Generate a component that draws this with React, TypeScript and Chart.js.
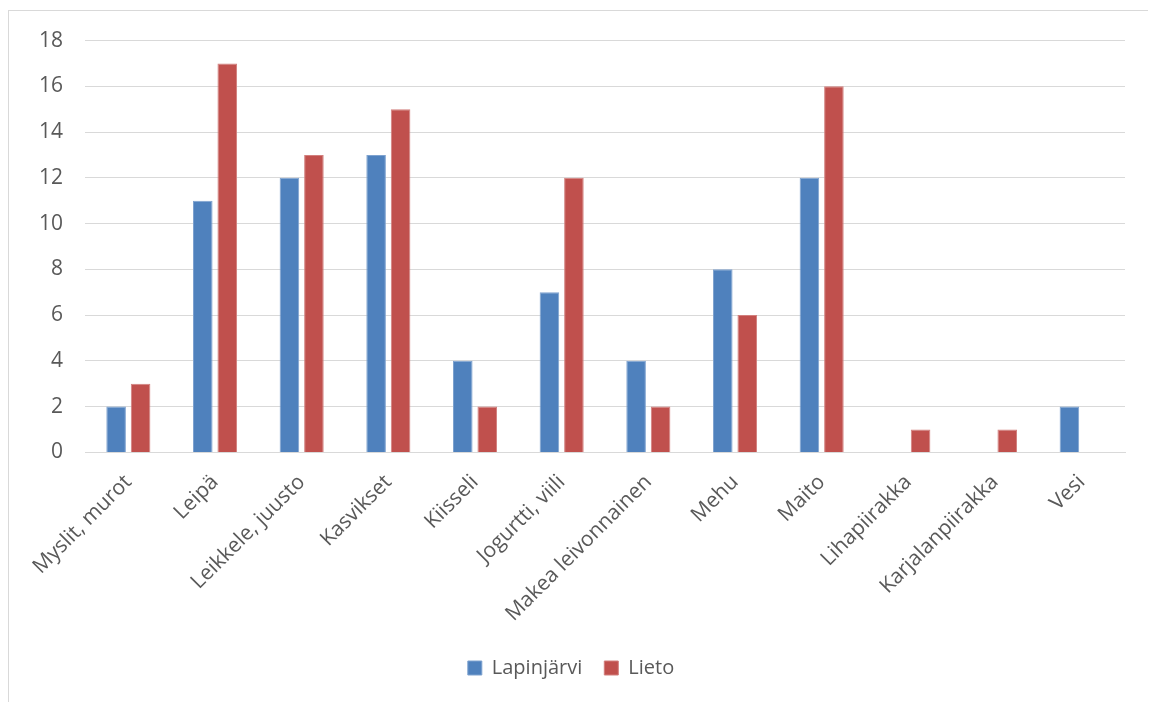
import React, { useEffect, useRef } from "react";
import { Chart, registerables } from "chart.js";

Chart.register(...registerables);

const categories = [
  "Myslit, murot",
  "Leipä",
  "Leikkele, juusto",
  "Kasvikset",
  "Kiisseli",
  "Jogurtti, viili",
  "Makea leivonnainen",
  "Mehu",
  "Maito",
  "Lihapiirakka",
  "Karjalanpiirakka",
  "Vesi",
];

const lapinjarvi: (number | null)[] = [2, 11, 12, 13, 4, 7, 4, 8, 12, null, null, 2];
const lieto: (number | null)[] = [3, 17, 13, 15, 2, 12, 2, 6, 16, 1, 1, null];

const yTicks = [0, 2, 4, 6, 8, 10, 12, 14, 16, 18];

const FONT = "'Open Sans', 'Liberation Sans', sans-serif";
const TEXT = "#595959";

export default function App() {
  const canvasRef = useRef<HTMLCanvasElement | null>(null);

  useEffect(() => {
    if (!canvasRef.current) return;
    const chart = new Chart(canvasRef.current, {
      type: "bar",
      data: {
        labels: categories,
        datasets: [
          {
            label: "Lapinjärvi",
            data: lapinjarvi,
            backgroundColor: "#4F81BD",
            borderColor: "#7ea2cf",
            borderWidth: 1,
            categoryPercentage: 0.565,
            barPercentage: 0.8,
          },
          {
            label: "Lieto",
            data: lieto,
            backgroundColor: "#C0504D",
            borderColor: "#d27f7d",
            borderWidth: 1,
            categoryPercentage: 0.565,
            barPercentage: 0.8,
          },
        ],
      },
      options: {
        animation: false,
        responsive: false,
        layout: { padding: { top: 10, left: 8, right: 28, bottom: 23 } },
        plugins: {
          tooltip: { enabled: false },
          legend: {
            position: "bottom",
            labels: {
              color: TEXT,
              font: { family: FONT, size: 20 },
              boxWidth: 14,
              boxHeight: 14,
              padding: 22,
            },
          },
        },
        scales: {
          x: {
            grid: { display: false },
            border: { color: "#d9d9d9" },
            ticks: {
              color: TEXT,
              font: { family: FONT, size: 21 },
              minRotation: 45,
              maxRotation: 45,
              autoSkip: false,
              padding: 9.5,
            },
          },
          y: {
            min: 0,
            max: 18,
            afterBuildTicks: (axis: any) => {
              axis.ticks = yTicks.map((v) => ({ value: v }));
            },
            grid: { color: "#d9d9d9", lineWidth: 1, drawTicks: false },
            border: { display: false },
            ticks: {
              color: TEXT,
              font: { family: FONT, size: 21 },
              padding: 22,
            },
          },
        },
      },
    });
    return () => chart.destroy();
  }, []);

  return (
    <div
      style={{
        marginTop: 2,
        width: 1144,
        height: 700,
        border: "1px solid #d9d9d9",
        background: "#fff",
      }}
    >
      <canvas
        ref={canvasRef}
        width={1144}
        height={705}
        style={{ display: "block", marginTop: -5 }}
      />
    </div>
  );
}
